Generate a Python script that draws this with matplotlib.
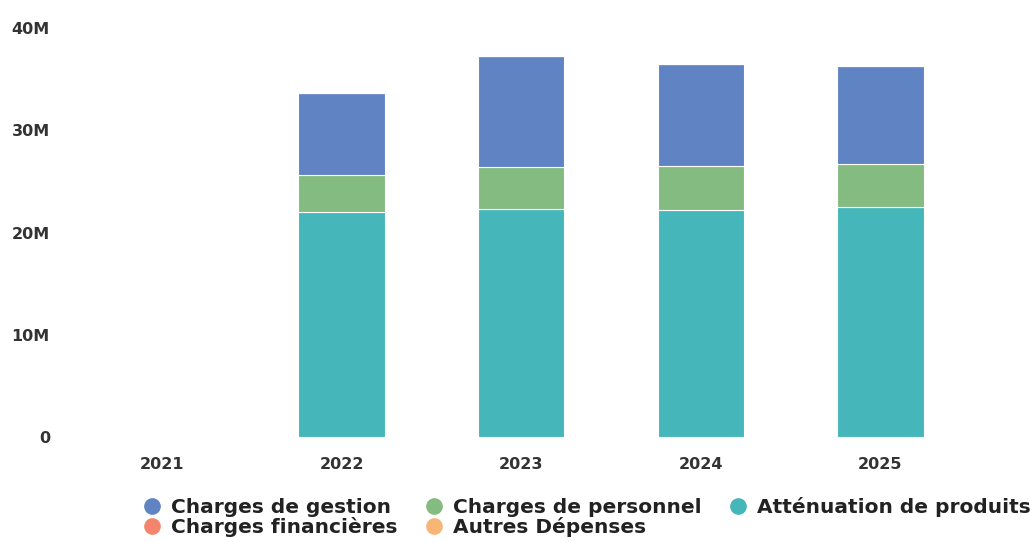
import matplotlib.pyplot as plt
import numpy as np
from matplotlib.lines import Line2D
from matplotlib.ticker import FuncFormatter

years = ["2021", "2022", "2023", "2024", "2025"]
# values in millions
attenuation = [0, 22.0, 22.3, 22.2, 22.55]
personnel = [0, 3.65, 4.1, 4.3, 4.17]
gestion = [0, 8.05, 10.9, 10.0, 9.58]
financieres = [0, 0, 0, 0, 0]
autres = [0, 0, 0, 0, 0]

series = [
    ("Atténuation de produits", attenuation, "#45b6b9"),
    ("Charges de personnel", personnel, "#84bb80"),
    ("Charges de gestion", gestion, "#6083c3"),
    ("Charges financières", financieres, "#f4856c"),
    ("Autres Dépenses", autres, "#f8b676"),
]
colors = {name: c for name, _, c in series}

fig = plt.figure(figsize=(10.3, 5.42), dpi=100)
ax = fig.add_axes([0.07, 0.193, 0.872, 0.755])

x = np.arange(len(years))
bottom = np.zeros(len(years))
for name, vals, col in series:
    v = np.array(vals) * 1e6
    ax.bar(x, v, 0.48, bottom=bottom, color=col, edgecolor="white", linewidth=0.8)
    bottom += v

ax.set_xlim(-0.5, 4.5)
ax.set_ylim(0, 40e6)
ax.set_yticks([0, 10e6, 20e6, 30e6, 40e6])
ax.yaxis.set_major_formatter(FuncFormatter(lambda v, p: "0" if v == 0 else f"{int(v/1e6)}M"))
ax.set_xticks(x)
ax.set_xticklabels(years)
for s in ax.spines.values():
    s.set_visible(False)
ax.tick_params(length=0, labelsize=11.5, colors="#333333")
ax.tick_params(axis="y", pad=16)
ax.tick_params(axis="x", pad=14)
for lab in ax.get_xticklabels() + ax.get_yticklabels():
    lab.set_fontweight("bold")

order = ["Charges de gestion", "Charges financières", "Charges de personnel",
         "Autres Dépenses", "Atténuation de produits"]
handles = [Line2D([], [], marker="o", linestyle="", markersize=11,
                  markerfacecolor=colors[n], markeredgecolor=colors[n]) for n in order]
fig.legend(handles, order, loc="lower left", bbox_to_anchor=(0.12, -0.025), ncol=3,
           frameon=False, prop={"weight": "bold", "size": 14.5}, handletextpad=0.45,
           columnspacing=1.3, labelspacing=0.0, handlelength=1.0, labelcolor="#222222")

fig.savefig("out.png", dpi=100)
